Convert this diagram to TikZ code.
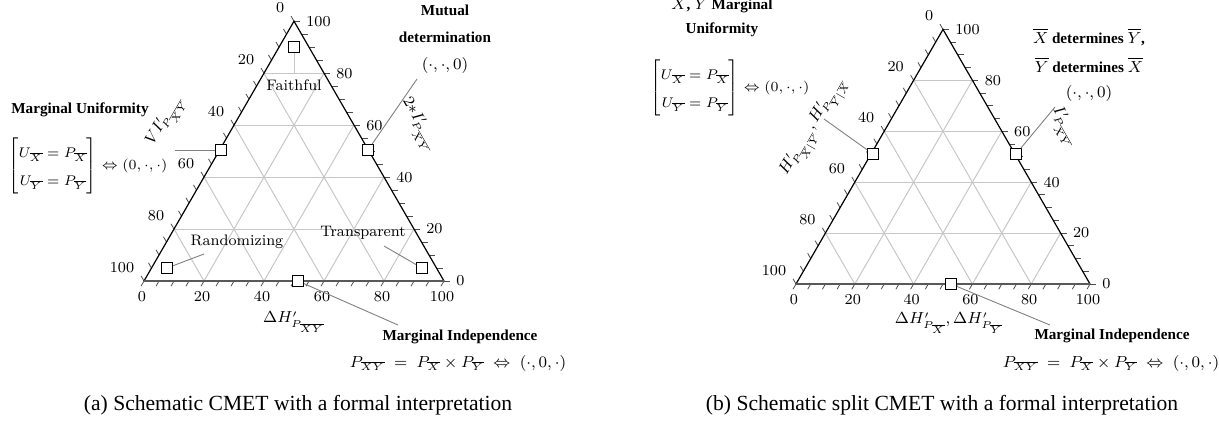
\documentclass[tikz,border=0pt]{standalone}
\usepackage{amsmath}
\usepackage{fontspec}
\newfontfamily\timesf{Liberation Serif}
\usetikzlibrary{calc}
\tikzset{
  lbl/.style={font=\fontsize{7.6}{9}\selectfont, inner sep=0pt},
  matl/.style={font=\fontsize{6.7}{9}\selectfont, inner sep=0pt},
  boldl/.style={font=\fontsize{7.6}{9}\selectfont\timesf\bfseries, inner sep=0pt},
  capt/.style={font=\fontsize{10.8}{13}\selectfont\timesf, inner sep=0pt},
  mk/.style={draw=black, fill=white, line width=0.55pt, minimum size=5.4pt, inner sep=0pt},
  conn/.style={draw=black!50, line width=0.45pt},
  gridl/.style={draw=black!22, line width=0.5pt},
  edgel/.style={draw=black, line width=0.6pt},
  basel/.style={draw=black!65, line width=1.1pt},
  tickl/.style={draw=black!70, line width=0.4pt},
}
\newcommand{\ternary}[4]{%
  \pgfmathsetmacro\tS{#4}%
  \pgfmathsetmacro\tH{#4*0.8660254}%
  \coordinate (#1A) at (#2,#3);
  \coordinate (#1B) at ({#2+\tS},#3);
  \coordinate (#1C) at ({#2+\tS/2},{#3-\tH});
  \foreach \k in {20,40,60,80}{
    \pgfmathsetmacro\tf{\k/100}
    \pgfmathsetmacro\tg{1-\k/100}
    \draw[gridl] ($(#1A)!\tf!(#1C)$) -- ($(#1B)!\tf!(#1C)$);
    \draw[gridl] ($(#1A)!\tf!(#1B)$) -- ($(#1B)!\tg!(#1C)$);
    \draw[gridl] ($(#1A)!\tf!(#1B)$) -- ($(#1A)!\tf!(#1C)$);
  }
  \foreach \k in {0,5,...,100}{
    \pgfmathsetmacro\tf{\k/100}
    \draw[tickl] ($(#1A)!\tf!(#1B)$) -- ++(-3,5.2);
    \draw[tickl] ($(#1B)!\tf!(#1C)$) -- ++(6,0);
    \draw[tickl] ($(#1C)!\tf!(#1A)$) -- ++(-3,-5.2);
  }
  \draw[edgel] (#1A) -- (#1C) -- (#1B);
  \draw[basel] (#1A) -- (#1B);
  \foreach \k in {0,20,...,100}{
    \pgfmathsetmacro\tf{\k/100}
    \node[lbl, anchor=north] (#1bot\k) at ($(#1A)!\tf!(#1B)+(-2,10)$) {\k};
    \node[lbl, anchor=west] (#1rgt\k) at ($(#1B)!\tf!(#1C)+(12,0)$) {\k};
    \node[lbl, anchor=south east] (#1lft\k) at ($(#1C)!\tf!(#1A)+(-9.5,-8)$) {\k};
  }
}
\newcommand{\margmat}{{\renewcommand{\arraystretch}{1.55}$\begin{bmatrix} U_{\overline{X}} = P_{\overline{X}} \\ U_{\overline{Y}} = P_{\overline{Y}} \end{bmatrix} \Leftrightarrow (0,\cdot,\cdot)$}}
\begin{document}
\begin{tikzpicture}[x=0.5pt,y=-0.5pt]
\useasboundingbox (0,0) rectangle (1219,425);
\ternary{a}{144}{281}{300}
\ternary{b}{796}{284}{294}

% ---------------- (a) ----------------
\node[mk] (aFa) at (294,47) {};
\coordinate (aFaE) at (294,73);
\draw[gridl] (aFa) -- (aFaE);
\node[lbl] (aFaL) at (294,85) {Faithful};

\node[mk] (aMU) at (221,150) {};
\coordinate (aMUE) at (175,150);
\draw[conn] (aMU) -- (aMUE);
\node[boldl] (aMUL) at (80,110) {Marginal Uniformity};
\node[matl, anchor=west] (aMUM) at (8,166) {\margmat};

\node[mk] (aMD) at (368,150) {};
\coordinate (aMDE) at (417,79);
\draw[conn] (aMD) -- (aMDE);
\node[boldl] (aMDL1) at (445,10) {Mutual};
\node[boldl] (aMDL2) at (445,37) {determination};
\node[lbl] (aMDL3) at (445,65) {$(\cdot,\cdot,0)$};

\node[mk] (aRa) at (167,268) {};
\coordinate (aRaE) at (204,254);
\draw[conn] (aRa) -- (aRaE);
\node[lbl] (aRaL) at (237,242) {Randomizing};

\node[mk] (aTr) at (422,268) {};
\coordinate (aTrE) at (384,246);
\draw[conn] (aTr) -- (aTrE);
\node[lbl] (aTrL) at (363,233) {Transparent};

\node[mk] (aMI) at (298,281) {};
\coordinate (aMIE) at (398,325);
\draw[conn] (aMI) -- (aMIE);
\node[boldl] (aMIL) at (460,337) {Marginal Independence};
\node[lbl] (aMIF) at (458,363) {$P_{\overline{XY}} \;=\; P_{\overline{X}} \times P_{\overline{Y}} \;\Leftrightarrow\; (\cdot,0,\cdot)$};

\node[lbl, rotate=60] (aAxL) at (166,121) {$VI'_{P_{\overline{XY}}}$};
\node[lbl, rotate=-60] (aAxR) at (418,125) {$2{*}I'_{P_{\overline{XY}}}$};
\node[lbl] (aAxB) at (294,322) {$\Delta H'_{P_{\overline{XY}}}$};

\node[capt] (aCap) at (298,405) {(a) Schematic CMET with a formal interpretation};

% ---------------- (b) ----------------
\node[boldl] (bMUL1) at (722,4) {$\overline{X}$, $\overline{Y}$ Marginal};
\node[boldl] (bMUL2) at (722,30) {Uniformity};
\node[matl, anchor=west] (bMUM) at (650,88) {\margmat};

\node[mk] (bMU) at (873,154) {};
\coordinate (bMUE) at (824,119);
\draw[conn] (bMU) -- (bMUE);
\node[lbl, rotate=60] (bAxL) at (815,127) {$H'_{P_{\overline{X}|\overline{Y}}}, H'_{P_{\overline{Y}|\overline{X}}}$};

\node[mk] (bMD) at (1016,154) {};
\coordinate (bMDE) at (1055,107);
\draw[conn] (bMD) -- (bMDE);
\node[lbl, rotate=-60] (bAxR) at (1064,127) {$I'_{P_{\overline{XY}}}$};
\node[boldl] (bMDL1) at (1089,37) {$\overline{X}$ determines $\overline{Y}$,};
\node[boldl] (bMDL2) at (1089,65) {$\overline{Y}$ determines $\overline{X}$};
\node[lbl] (bMDL3) at (1089,93) {$(\cdot,\cdot,0)$};

\node[mk] (bMI) at (951,284) {};
\coordinate (bMIE) at (1050,325);
\draw[conn] (bMI) -- (bMIE);
\node[boldl] (bMIL) at (1112,336) {Marginal Independence};
\node[lbl] (bMIF) at (1111,363) {$P_{\overline{XY}} \;=\; P_{\overline{X}} \times P_{\overline{Y}} \;\Leftrightarrow\; (\cdot,0,\cdot)$};
\node[lbl] (bAxB) at (949,323) {$\Delta H'_{P_{\overline{X}}}, \Delta H'_{P_{\overline{Y}}}$};

\node[capt] (bCap) at (942,405) {(b) Schematic split CMET with a formal interpretation};
\end{tikzpicture}
\end{document}
